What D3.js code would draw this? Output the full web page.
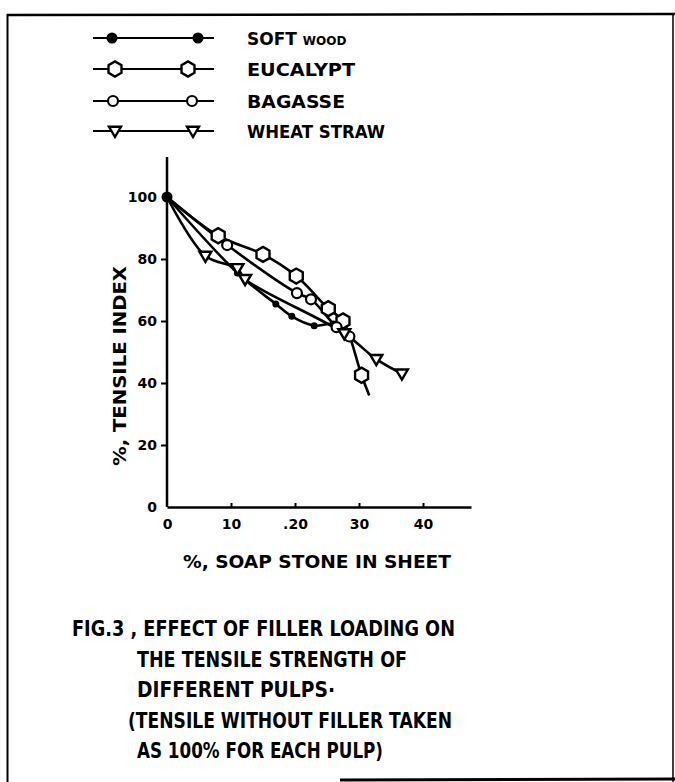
<!DOCTYPE html>
<html><head><meta charset="utf-8">
<script src="https://cdn.jsdelivr.net/npm/d3@7"></script>
<style>body{margin:0;background:#fff}svg{display:block}</style>
</head><body>
<script>
// ---- data ----
const seriesNames = ["SOFT WOOD", "EUCALYPT", "BAGASSE", "WHEAT STRAW"];
const softX  = [0, 11, 17, 19.5, 23, 26, 28.5];
const softY  = [100, 75.5, 65.5, 61.5, 58.5, 59, 55.5];
const eucX   = [0, 8, 15, 20.2, 25.2, 27.5, 30.4, 31.6];
const eucY   = [100, 87.5, 81.5, 74.5, 64, 60, 42.5, 36];
const eucMarked = [true, true, true, true, true, true, true, false];
const bagX   = [0, 9.4, 20.3, 22.5, 26.5, 28.5];
const bagY   = [100, 84.5, 69, 67, 58, 55];
const wheatX = [0, 6, 11, 12.2, 27.7, 32.7, 36.7];
const wheatY = [100, 81, 77, 73.5, 56, 47.7, 43];
const xTicks = [0, 10, 20, 30, 40];
const xTickLabels = ["0", "10", ".20", "30", "40"];
const yTicks = [0, 20, 40, 60, 80, 100];
const yTickLabels = ["0", "20", "40", "60", "80", "100"];
const xTitle = "%, SOAP STONE  IN  SHEET";
const yTitle = "%, TENSILE  INDEX";
const caption = ["FIG.3 , EFFECT OF FILLER LOADING ON", "THE TENSILE STRENGTH OF", "DIFFERENT  PULPS\u00b7", "(TENSILE  WITHOUT  FILLER TAKEN", "AS  100% FOR  EACH  PULP)"];

const W = 675, H = 782;
const svg = d3.select("body").append("svg").attr("width", W).attr("height", H);
const FONT = "'DejaVu Sans', sans-serif";

// frame
svg.append("line").attr("x1", 7).attr("y1", 15).attr("x2", 675).attr("y2", 14).attr("stroke", "#000").attr("stroke-width", 2.5);
svg.append("line").attr("x1", 7.5).attr("y1", 14).attr("x2", 7.5).attr("y2", 782).attr("stroke", "#000").attr("stroke-width", 2);
svg.append("line").attr("x1", 673).attr("y1", 14).attr("x2", 673).attr("y2", 782).attr("stroke", "#000").attr("stroke-width", 1.5);
svg.append("line").attr("x1", 340).attr("y1", 780).attr("x2", 675).attr("y2", 779).attr("stroke", "#000").attr("stroke-width", 3);

const x = d3.scaleLinear().domain([0, 47.5]).range([167, 471]);
const y = d3.scaleLinear().domain([0, 100]).range([507, 197]);

// axes
const xAxis = svg.append("g").attr("transform", "translate(0,507)")
  .call(d3.axisBottom(x).tickValues(xTicks).tickFormat((d, i) => xTickLabels[i]).tickSize(-4).tickPadding(12).tickSizeOuter(0));
const yAxis = svg.append("g").attr("transform", "translate(167,0)")
  .call(d3.axisLeft(y).tickValues(yTicks).tickFormat((d, i) => yTickLabels[i]).tickSize(6).tickPadding(4).tickSizeOuter(0));
[xAxis, yAxis].forEach(g => {
  g.select(".domain").attr("stroke", "#000").attr("stroke-width", 2.5);
  g.selectAll(".tick line").attr("stroke", "#000").attr("stroke-width", 2);
  g.selectAll(".tick text").attr("font-family", FONT).attr("font-weight", "bold").attr("font-size", 14).attr("fill", "#000");
});
yAxis.select(".domain").attr("d", `M0,${y(0)}V157`);
xAxis.selectAll(".tick").filter(d => d === 0).select("line").remove();
yAxis.selectAll(".tick").filter(d => d === 0 || d === 100).select("line").remove();
xAxis.selectAll(".tick text").attr("dy", "0.71em");

// axis titles
svg.append("text").attr("x", 317).attr("y", 568).attr("text-anchor", "middle")
  .attr("font-family", FONT).attr("font-weight", "bold").attr("font-size", 17)
  .attr("textLength", 268).attr("lengthAdjust", "spacingAndGlyphs").text(xTitle);
svg.append("text").attr("transform", "translate(126,366) rotate(-90)").attr("text-anchor", "middle")
  .attr("font-family", FONT).attr("font-weight", "bold").attr("font-size", 17)
  .attr("textLength", 200).attr("lengthAdjust", "spacingAndGlyphs").text(yTitle);

// series
const line = d3.line().x(d => x(d[0])).y(d => y(d[1])).curve(d3.curveCatmullRom.alpha(0.5));
const zip = (a, b) => a.map((v, i) => [v, b[i]]);
const series = [
  {name: seriesNames[0], pts: zip(softX, softY), marked: softX.map(() => true), mk: "dot"},
  {name: seriesNames[1], pts: zip(eucX, eucY), marked: eucMarked, mk: "hex"},
  {name: seriesNames[2], pts: zip(bagX, bagY), marked: bagX.map(() => true), mk: "circle"},
  {name: seriesNames[3], pts: zip(wheatX, wheatY), marked: wheatX.map(() => true), mk: "tri"}
];

function marker(g, type, cx, cy, big) {
  if (type === "dot") {
    g.append("circle").attr("cx", cx).attr("cy", cy).attr("r", big ? 5.5 : 3.5).attr("fill", "#000");
  } else if (type === "hex") {
    const r = 7.5;
    const pts = d3.range(6).map(k => { const a = Math.PI / 6 + k * Math.PI / 3; return [cx + r * Math.cos(a), cy + r * Math.sin(a)]; });
    g.append("polygon").attr("points", pts.map(p => p.join(",")).join(" ")).attr("fill", "#fff").attr("stroke", "#000").attr("stroke-width", 2.4);
  } else if (type === "circle") {
    g.append("circle").attr("cx", cx).attr("cy", cy).attr("r", 5).attr("fill", "#fff").attr("stroke", "#000").attr("stroke-width", 2.2);
  } else if (type === "tri") {
    const s = 6;
    g.append("polygon").attr("points", `${cx - s},${cy - s * 0.7} ${cx + s},${cy - s * 0.7} ${cx},${cy + s}`)
      .attr("fill", "#fff").attr("stroke", "#000").attr("stroke-width", 2.4);
  }
}

const plot = svg.append("g");
series.forEach(s => {
  plot.append("path").attr("d", line(s.pts)).attr("fill", "none").attr("stroke", "#000").attr("stroke-width", 2.6);
});
series.forEach(s => {
  s.pts.forEach((p, i) => {
    if (!s.marked[i] || p[0] === 0) return;
    marker(plot, s.mk, x(p[0]), y(p[1]), false);
  });
});
// common origin point
marker(plot, "dot", x(softX[0]), y(softY[0]), true);

// legend
const legY = [38, 69, 101, 131];
const legMk = [[112, 198], [115, 188], [113, 192], [115, 193]];
series.forEach((s, i) => {
  const g = svg.append("g");
  g.append("line").attr("x1", 93).attr("x2", 214).attr("y1", legY[i]).attr("y2", legY[i]).attr("stroke", "#000").attr("stroke-width", 2);
  legMk[i].forEach(mx => marker(g, s.mk, mx, legY[i], s.mk === "dot"));
});
const legText = svg.append("g").attr("font-family", FONT).attr("font-weight", "bold").attr("fill", "#000");
const sw = legText.append("text").attr("x", 247).attr("y", legY[0] + 7).attr("font-size", 17);
sw.append("tspan").text("SOFT ");
sw.append("tspan").attr("font-size", 12).text("WOOD");
const legLens = [null, 108, 98, 138];
[1, 2, 3].forEach(i => {
  legText.append("text").attr("x", 247).attr("y", legY[i] + 7).attr("font-size", 17)
    .attr("textLength", legLens[i]).attr("lengthAdjust", "spacingAndGlyphs").text(seriesNames[i]);
});

// caption
const capX = [72, 137, 137, 128, 137];
const capY = [636, 667, 697, 728, 758];
const capLen = [383, 270, 198, 324, 246];
caption.forEach((t, i) => {
  svg.append("text").attr("x", capX[i]).attr("y", capY[i])
    .attr("font-family", FONT).attr("font-weight", "bold").attr("font-size", 21)
    .attr("textLength", capLen[i]).attr("lengthAdjust", "spacingAndGlyphs").text(t);
});
</script>
</body></html>
